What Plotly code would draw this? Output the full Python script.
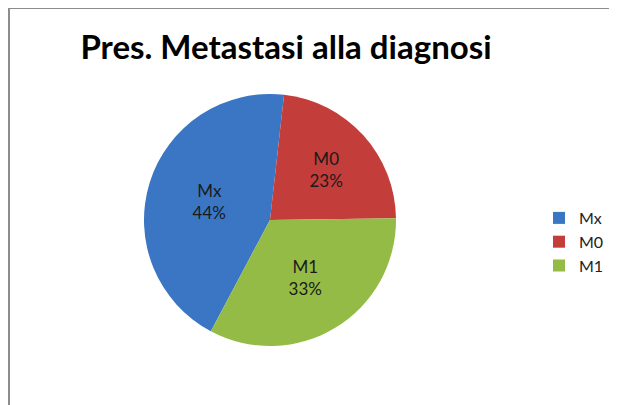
import plotly.graph_objects as go

categories = ["Mx", "M0", "M1"]
percentages = [44, 23, 33]
colors = ["#3A76C3", "#C33E3B", "#93BB45"]

OFF = 8  # page body margin offset
W, H = 617 - 2 * OFF, 405 - OFF
cx, cy, r = 270 - OFF, 220 - OFF, 126


def px(x):
    return x / W


def py(y):
    return 1 - y / H


fig = go.Figure(go.Pie(
    labels=categories,
    values=percentages,
    sort=False,
    direction="clockwise",
    rotation=208,
    marker=dict(colors=colors, line=dict(width=0)),
    texttemplate="%{label}<br>%{percent:.0%}",
    textposition="inside",
    insidetextorientation="horizontal",
    textfont=dict(family="Lato, Open Sans, sans-serif", size=17, color="#1a1a1a"),
    hoverinfo="label+percent",
    domain=dict(x=[px(cx - r), px(cx + r)], y=[py(cy + r), py(cy - r)]),
))

fig.update_layout(
    width=W, height=H,
    margin=dict(l=0, r=0, t=0, b=0),
    paper_bgcolor="white",
    title=dict(
        text="<b>Pres. Metastasi alla diagnosi</b>",
        x=px(286 - OFF), xanchor="center", y=py(47 - OFF), yanchor="middle",
        font=dict(family="Lato, Open Sans, sans-serif", size=33, color="#000000"),
    ),
    legend=dict(
        x=1.0, xanchor="right", y=py(242 - OFF), yanchor="middle",
        font=dict(family="Lato, Open Sans, sans-serif", size=16, color="#222222"),
        bgcolor="rgba(0,0,0,0)",
    ),
    shapes=[
        dict(type="line", xref="paper", yref="paper", x0=px(1), x1=1.0, y0=py(8 - OFF), y1=py(8 - OFF),
             line=dict(color="#8c8c8c", width=2)),
        dict(type="line", xref="paper", yref="paper", x0=px(1), x1=px(1), y0=0, y1=py(8 - OFF),
             line=dict(color="#8c8c8c", width=2)),
    ],
)

fig.write_html("out.html")
